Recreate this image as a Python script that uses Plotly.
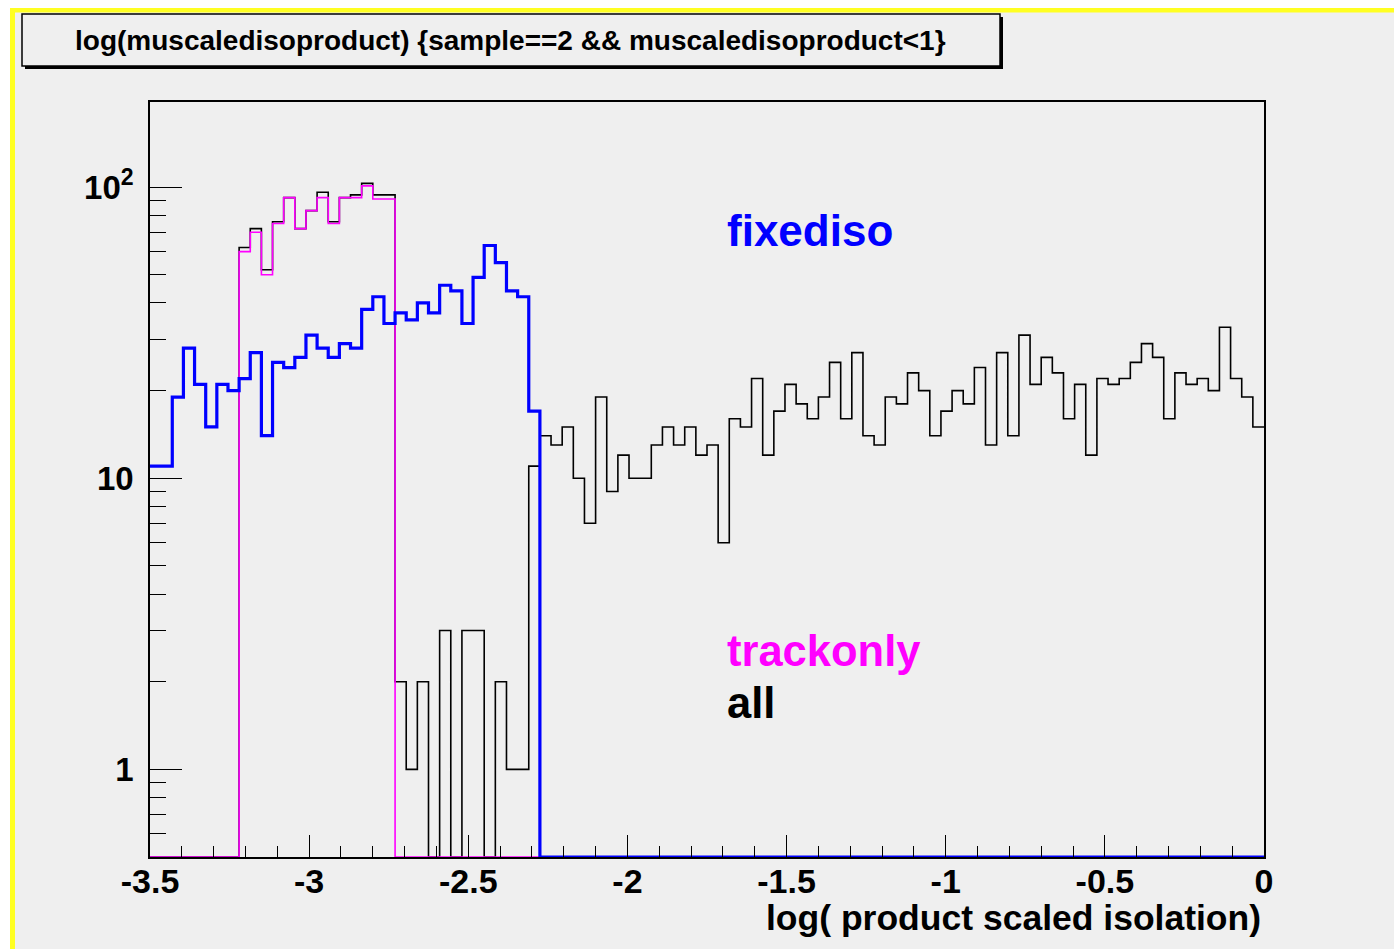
import math
import plotly.graph_objects as go

W, H = 1394, 949

# Histogram binning: 100 bins over [-3.5, 0]
N_BINS = 100
X_LOW, X_HIGH = -3.5, 0.0

# Counts per bin
all_counts = (
    [0] * 8
    + [62, 72, 52, 76, 92, 72, 83, 96, 76, 92, 94, 103, 94, 94]
    + [2, 1, 2, 0, 3, 0, 3, 3, 0, 2, 1, 1]
    + [11]
    + [14, 13, 15, 10, 7, 19, 9, 12, 10, 10, 13, 15, 13, 15, 12, 13, 6, 16, 15, 22, 12, 17]
    + [21, 18, 16, 19, 25, 16, 27, 14, 13, 19, 18, 23, 20, 14, 17, 20, 18, 24, 13, 27, 14]
    + [31, 21, 26, 23, 16, 21, 12, 22, 21, 22, 25, 29, 26, 16, 23, 21, 22, 20, 33, 22, 19, 15]
)

trackonly_counts = (
    [0] * 8
    + [60, 70, 50, 75, 92, 72, 83, 92, 75, 92, 92, 101, 91, 91]
    + [0] * 78
)

fixediso_counts = (
    [11, 11, 19, 28, 21, 15, 21, 20, 22, 27, 14, 25, 24, 26, 31, 28, 26, 29, 28, 38,
     42, 34, 37, 35, 40, 37, 46, 44, 34, 49, 63, 55, 44, 42, 17]
    + [0] * 65
)

x_tick_vals = [-3.5, -3.0, -2.5, -2.0, -1.5, -1.0, -0.5, 0.0]
x_tick_text = ["-3.5", "-3", "-2.5", "-2", "-1.5", "-1", "-0.5", "0"]
y_tick_vals = [1, 10, 100]
y_tick_text = ["1", "10", "10<sup>2</sup>"]
y_minor_vals = [0.5, 0.6, 0.7, 0.8, 0.9, 2, 3, 4, 5, 6, 7, 8, 9,
                20, 30, 40, 50, 60, 70, 80, 90]

Y_MIN, Y_MAX = 0.5, 196.0

bin_w = (X_HIGH - X_LOW) / N_BINS
edges = [X_LOW + i * bin_w for i in range(N_BINS + 1)]


def step_y(counts):
    # empty bins sit on the lower edge of the log axis
    ys = [c if c > 0 else Y_MIN for c in counts]
    return ys + [ys[-1]]


def px(x):
    return x / W


def py(y):
    return 1 - y / H


FONT = "Liberation Sans, Arial, Helvetica, sans-serif"

fig = go.Figure()
fig.add_trace(go.Scatter(x=edges, y=step_y(all_counts), mode="lines",
                         line=dict(shape="hv", color="black", width=1.6),
                         name="all", hoverinfo="skip"))
fig.add_trace(go.Scatter(x=edges, y=step_y(trackonly_counts), mode="lines",
                         line=dict(shape="hv", color="#ff00ff", width=1.6),
                         name="trackonly", hoverinfo="skip"))
fig.add_trace(go.Scatter(x=edges, y=step_y(fixediso_counts), mode="lines",
                         line=dict(shape="hv", color="#0000ff", width=3.2),
                         name="fixediso", hoverinfo="skip"))

shapes = [
    # canvas frame
    dict(type="rect", xref="paper", yref="paper", x0=px(10), x1=1.0, y0=0, y1=py(8),
         fillcolor="#ffff22", line=dict(width=0), layer="below"),
    dict(type="rect", xref="paper", yref="paper", x0=px(15), x1=1.0, y0=0, y1=py(12.5),
         fillcolor="#efefef", line=dict(width=0), layer="below"),
    # title box with shadow
    dict(type="rect", xref="paper", yref="paper", x0=px(25), x1=px(1003), y0=py(69), y1=py(17),
         fillcolor="black", line=dict(width=0)),
    dict(type="rect", xref="paper", yref="paper", x0=px(22), x1=px(1000), y0=py(66), y1=py(14),
         fillcolor="#efefef", line=dict(color="black", width=1.5)),
]

annotations = [
    dict(text="<b>log(muscaledisoproduct) {sample==2 && muscaledisoproduct<1}</b>",
         xref="paper", yref="paper", x=px(510), y=py(40), xanchor="center", yanchor="middle",
         showarrow=False, font=dict(family=FONT, size=28, color="black")),
    dict(text="<b>fixediso</b>", xref="paper", yref="paper", x=px(725), y=py(230),
         xanchor="left", yanchor="middle", showarrow=False,
         font=dict(family=FONT, size=44, color="#0000ff")),
    dict(text="<b>trackonly</b>", xref="paper", yref="paper", x=px(725), y=py(651),
         xanchor="left", yanchor="middle", showarrow=False,
         font=dict(family=FONT, size=43.5, color="#ff00ff")),
    dict(text="<b>all</b>", xref="paper", yref="paper", x=px(725), y=py(703),
         xanchor="left", yanchor="middle", showarrow=False,
         font=dict(family=FONT, size=43.5, color="black")),
    dict(text="<b>log( product scaled isolation)</b>", xref="paper", yref="paper",
         x=px(1263), y=py(918), xanchor="right", yanchor="middle", showarrow=False,
         font=dict(family=FONT, size=35.5, color="black")),
]

fig.update_layout(
    width=W, height=H,
    margin=dict(l=0, r=0, t=0, b=0),
    paper_bgcolor="white",
    plot_bgcolor="#efefef",
    showlegend=False,
    shapes=shapes,
    annotations=annotations,
    xaxis=dict(
        domain=[px(150), px(1264)],
        range=[X_LOW, X_HIGH],
        automargin=False,
        tickmode="array", tickvals=x_tick_vals, ticktext=x_tick_text,
        ticks="inside", ticklen=22, tickwidth=1.3, tickcolor="black",
        minor=dict(ticks="inside", ticklen=11, tickwidth=1.3, tickcolor="black",
                   tick0=X_LOW, dtick=0.1, showgrid=False),
        showline=True, linecolor="black", linewidth=1.5, mirror=True,
        showgrid=False, zeroline=False,
        ticklabelstandoff=-7,
        tickfont=dict(family=FONT, size=34, color="black", weight="bold"),
    ),
    yaxis=dict(
        domain=[py(857), py(102)],
        type="log",
        range=[math.log10(Y_MIN), math.log10(Y_MAX)],
        automargin=False,
        tickmode="array", tickvals=y_tick_vals, ticktext=y_tick_text,
        ticks="inside", ticklen=32, tickwidth=1.3, tickcolor="black",
        minor=dict(ticks="inside", ticklen=16, tickwidth=1.3, tickcolor="black",
                   tickmode="array", tickvals=y_minor_vals, showgrid=False),
        showline=True, linecolor="black", linewidth=1.5, mirror=True,
        showgrid=False, zeroline=False,
        ticklabelstandoff=8,
        tickfont=dict(family=FONT, size=33, color="black", weight="bold"),
    ),
)

fig.write_html("out.html")
